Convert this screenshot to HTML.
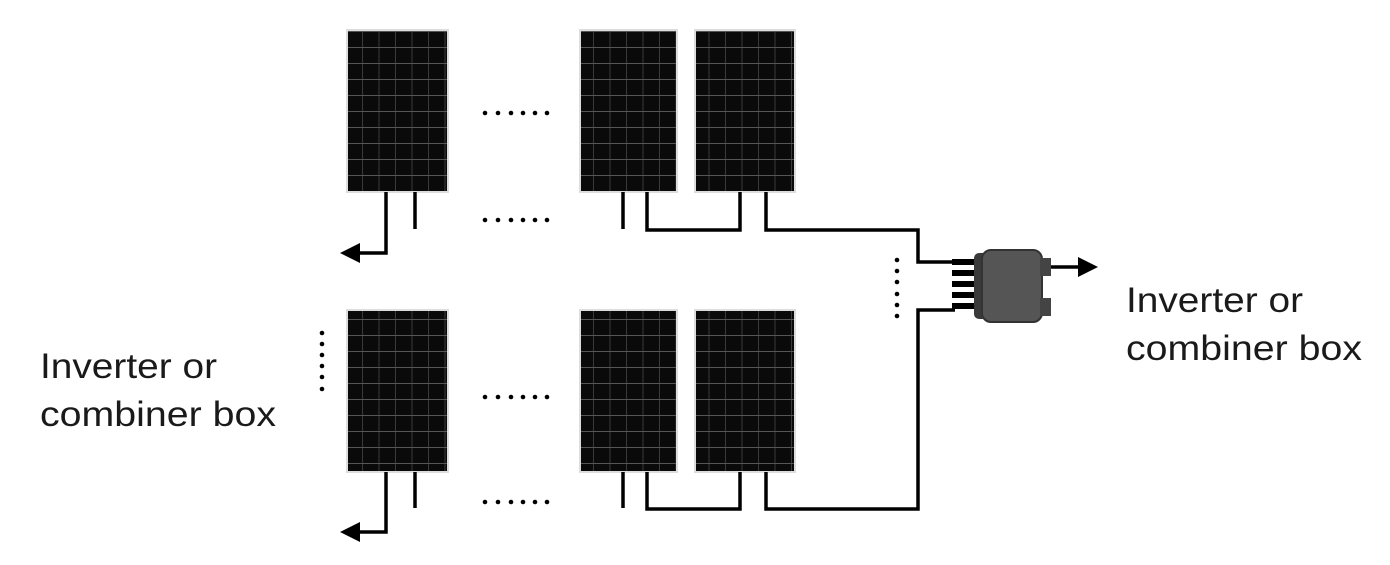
<!DOCTYPE html>
<html><head><meta charset="utf-8"><style>html,body{margin:0;padding:0;background:#fff}svg{display:block}</style></head>
<body>
<svg width="1390" height="565" viewBox="0 0 1390 565" xmlns="http://www.w3.org/2000/svg">
<defs>
<pattern id="cell" patternUnits="userSpaceOnUse" width="16.5" height="16" x="0" y="0">
<rect width="16.5" height="16" fill="#0a0a0a"/>
<rect x="15.5" width="1" height="16" fill="#3a3a3a"/>
<rect y="15" width="16.5" height="1" fill="#555"/>
</pattern>
</defs>
<g stroke="#ddd" stroke-width="2">
<rect x="347" y="30" width="101" height="162" fill="url(#cell)"/>
<rect x="580" y="30" width="97" height="162" fill="url(#cell)"/>
<rect x="695" y="30" width="100" height="162" fill="url(#cell)"/>
<rect x="347" y="310" width="101" height="162" fill="url(#cell)"/>
<rect x="580" y="310" width="97" height="162" fill="url(#cell)"/>
<rect x="695" y="310" width="100" height="162" fill="url(#cell)"/>
</g>
<g fill="none" stroke="#000" stroke-width="3.5">
<!-- top row -->
<polyline points="386,192 386,253 355,253"/>
<line x1="415" y1="192" x2="415" y2="229"/>
<line x1="623" y1="192" x2="623" y2="229"/>
<polyline points="647,192 647,230 740,230 740,192"/>
<polyline points="766,192 766,230 918,230 918,262 955,262"/>
<!-- bottom row -->
<polyline points="386,472 386,532 355,532"/>
<line x1="415" y1="472" x2="415" y2="508"/>
<line x1="623" y1="472" x2="623" y2="508"/>
<polyline points="647,472 647,509 740,509 740,472"/>
<polyline points="766,472 766,509 918,509 918,310 955,310"/>
<line x1="1050" y1="267" x2="1080" y2="267"/>
</g>
<polygon points="340,253 360,243 360,263" fill="#000"/>
<polygon points="340,532 360,522 360,542" fill="#000"/>
<polygon points="1098,267 1078,257 1078,277" fill="#000"/>
<!-- combiner connectors -->
<g fill="#000">
<rect x="952" y="259" width="26" height="6"/>
<rect x="952" y="270" width="26" height="6"/>
<rect x="952" y="281" width="26" height="6"/>
<rect x="952" y="292" width="26" height="6"/>
<rect x="952" y="303" width="26" height="6"/>
</g>
<rect x="974" y="253" width="14" height="66" rx="5" fill="#3a3a3a"/>
<rect x="982" y="250" width="60" height="72" rx="9" fill="#555" stroke="#333" stroke-width="2"/>
<rect x="1040" y="258" width="11" height="18" fill="#444"/>
<rect x="1040" y="298" width="11" height="18" fill="#444"/>
<!-- dots -->
<g fill="#000">
<circle cx="485" cy="113" r="2.3"/><circle cx="498" cy="113" r="2.3"/><circle cx="511" cy="113" r="2.3"/><circle cx="523" cy="113" r="2.3"/><circle cx="535" cy="113" r="2.3"/><circle cx="547" cy="113" r="2.3"/>
<circle cx="485" cy="220" r="2.3"/><circle cx="498" cy="220" r="2.3"/><circle cx="511" cy="220" r="2.3"/><circle cx="523" cy="220" r="2.3"/><circle cx="535" cy="220" r="2.3"/><circle cx="547" cy="220" r="2.3"/>
<circle cx="485" cy="397" r="2.3"/><circle cx="498" cy="397" r="2.3"/><circle cx="511" cy="397" r="2.3"/><circle cx="523" cy="397" r="2.3"/><circle cx="535" cy="397" r="2.3"/><circle cx="547" cy="397" r="2.3"/>
<circle cx="485" cy="502" r="2.3"/><circle cx="498" cy="502" r="2.3"/><circle cx="511" cy="502" r="2.3"/><circle cx="523" cy="502" r="2.3"/><circle cx="535" cy="502" r="2.3"/><circle cx="547" cy="502" r="2.3"/>
<circle cx="322" cy="333" r="2.3"/><circle cx="322" cy="344" r="2.3"/><circle cx="322" cy="355" r="2.3"/><circle cx="322" cy="366" r="2.3"/><circle cx="322" cy="377" r="2.3"/><circle cx="322" cy="389" r="2.3"/>
<circle cx="897" cy="260" r="2.3"/><circle cx="897" cy="271" r="2.3"/><circle cx="897" cy="282" r="2.3"/><circle cx="897" cy="294" r="2.3"/><circle cx="897" cy="305" r="2.3"/><circle cx="897" cy="316" r="2.3"/>
</g>
<g font-family="Liberation Sans, sans-serif" font-size="35" fill="#1a1a1a">
<text x="1126" y="312" textLength="177" lengthAdjust="spacingAndGlyphs">Inverter or</text>
<text x="1126" y="360" textLength="236" lengthAdjust="spacingAndGlyphs">combiner box</text>
<text x="40" y="378" textLength="177" lengthAdjust="spacingAndGlyphs">Inverter or</text>
<text x="40" y="426" textLength="236" lengthAdjust="spacingAndGlyphs">combiner box</text>
</g>
</svg>
</body></html>
